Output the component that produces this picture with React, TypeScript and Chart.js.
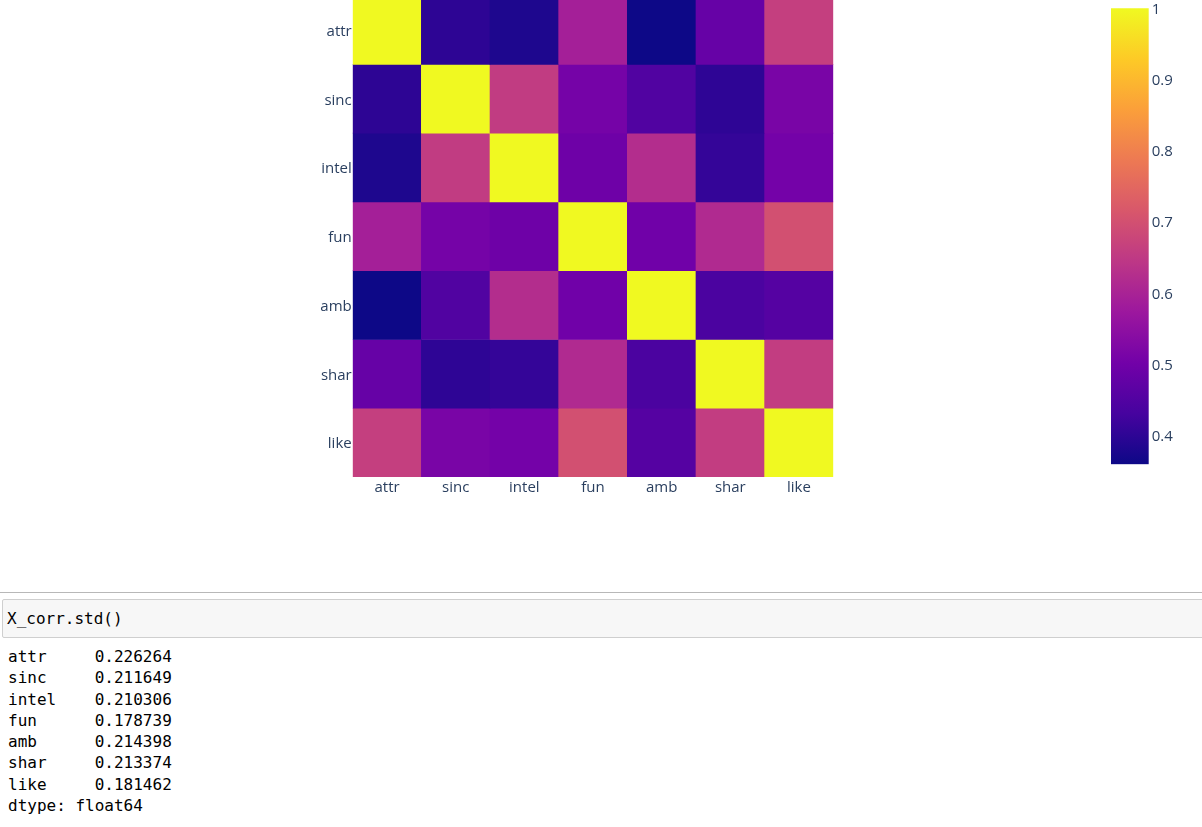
import React, { useEffect, useRef } from 'react';
import { Chart, registerables } from 'chart.js';

Chart.register(...registerables);

// ---- data ----
const variables = ['attr', 'sinc', 'intel', 'fun', 'amb', 'shar', 'like'];

const corrAttr = [1.0, 0.399, 0.38, 0.59, 0.359, 0.482, 0.662];
const corrSinc = [0.399, 1.0, 0.654, 0.507, 0.448, 0.4, 0.513];
const corrIntel = [0.38, 0.654, 1.0, 0.495, 0.622, 0.408, 0.505];
const corrFun = [0.59, 0.507, 0.495, 1.0, 0.499, 0.615, 0.699];
const corrAmb = [0.359, 0.448, 0.622, 0.499, 1.0, 0.438, 0.454];
const corrShar = [0.482, 0.4, 0.408, 0.615, 0.438, 1.0, 0.657];
const corrLike = [0.662, 0.513, 0.505, 0.699, 0.454, 0.657, 1.0];

const colorbarTicks = [0.4, 0.5, 0.6, 0.7, 0.8, 0.9, 1];

const stdNames = ['attr', 'sinc', 'intel', 'fun', 'amb', 'shar', 'like'];
const stdValues = ['0.226264', '0.211649', '0.210306', '0.178739', '0.214398', '0.213374', '0.181462'];

const PLASMA = ['#0d0887', '#46039f', '#7201a8', '#9c179e', '#bd3786', '#d8576b', '#ed7953', '#fb9f3a', '#fdca26', '#f0f921'];

function hexToRgb(h: string) {
  return [parseInt(h.slice(1, 3), 16), parseInt(h.slice(3, 5), 16), parseInt(h.slice(5, 7), 16)];
}

function plasma(t: number) {
  const n = PLASMA.length;
  const c = Math.max(0, Math.min(1, t));
  const s = c * (n - 1);
  const i = Math.min(Math.floor(s), n - 2);
  const f = s - i;
  const a = hexToRgb(PLASMA[i]);
  const b = hexToRgb(PLASMA[i + 1]);
  const r = a.map((v, k) => Math.round(v + (b[k] - v) * f));
  return `rgb(${r[0]},${r[1]},${r[2]})`;
}

const FONT = { family: "'Open Sans', sans-serif", size: 15 };
const TICK_COLOR = '#2a3f5f';
const MONO = "'DejaVu Sans Mono', 'Liberation Mono', monospace";

export default function App() {
  const heatRef = useRef<HTMLCanvasElement | null>(null);
  const barRef = useRef<HTMLCanvasElement | null>(null);

  useEffect(() => {
    const rows = [corrAttr, corrSinc, corrIntel, corrFun, corrAmb, corrShar, corrLike];
    const zMin = Math.min(...rows.flat());
    const zMax = 1;

    const heat = new Chart(heatRef.current as HTMLCanvasElement, {
      type: 'bar',
      data: {
        labels: variables,
        datasets: rows.map((row, i) => ({
          label: variables[i],
          data: row.map(() => [i, i + 1]),
          backgroundColor: row.map((v) => plasma((v - zMin) / (zMax - zMin))),
          borderWidth: 0,
          grouped: false,
          barPercentage: 1,
          categoryPercentage: 1,
        })) as any,
      },
      options: {
        animation: false,
        responsive: false,
        layout: { padding: { top: 35.6, left: 0, right: 0.7, bottom: 0 } },
        plugins: { legend: { display: false }, tooltip: { enabled: false } },
        scales: {
          x: {
            type: 'category',
            grid: { display: false, drawTicks: false },
            border: { display: false },
            ticks: { font: FONT, color: TICK_COLOR, padding: 2, maxRotation: 0, autoSkip: false },
            afterFit: (s: any) => {
              s.height = 43;
            },
          },
          y: {
            type: 'linear',
            reverse: true,
            min: 0,
            max: variables.length,
            grid: { display: false, drawTicks: false },
            border: { display: false },
            afterBuildTicks: (s: any) => {
              s.ticks = variables.map((_, i) => ({ value: i + 0.5 }));
            },
            ticks: {
              font: FONT,
              color: TICK_COLOR,
              padding: 1,
              labelOffset: 1.5,
              callback: (v: any) => variables[Math.round(Number(v) - 0.5)],
            },
            afterFit: (s: any) => {
              s.width = 352.7;
            },
          },
        },
      } as any,
    });

    const bar = new Chart(barRef.current as HTMLCanvasElement, {
      type: 'bar',
      data: {
        labels: ['z'],
        datasets: [
          {
            data: [[zMin, zMax]] as any,
            backgroundColor: (ctx: any) => {
              const chart = ctx.chart;
              const area = chart.chartArea;
              if (!area) return PLASMA[0];
              const y = chart.scales.y;
              const g = chart.ctx.createLinearGradient(0, y.getPixelForValue(zMin), 0, y.getPixelForValue(zMax));
              PLASMA.forEach((c, k) => g.addColorStop(k / (PLASMA.length - 1), c));
              return g;
            },
            borderWidth: 0,
            barPercentage: 1,
            categoryPercentage: 1,
          },
        ],
      },
      options: {
        animation: false,
        responsive: false,
        layout: { padding: { top: 28.3, left: 21, right: 0, bottom: 35.7 } },
        plugins: { legend: { display: false }, tooltip: { enabled: false } },
        scales: {
          x: { display: false },
          y: {
            type: 'linear',
            position: 'right',
            min: zMin,
            max: zMax,
            grid: { display: false, drawTicks: false },
            border: { display: false },
            afterBuildTicks: (s: any) => {
              s.ticks = colorbarTicks.map((v) => ({ value: v }));
            },
            ticks: {
              font: FONT,
              color: TICK_COLOR,
              padding: 3,
              labelOffset: 1.5,
              callback: (v: any) => String(Math.round(Number(v) * 10) / 10),
            },
            afterFit: (s: any) => {
              s.width = 53.3;
            },
          },
        },
      } as any,
    });

    return () => {
      heat.destroy();
      bar.destroy();
    };
  }, []);

  return (
    <div
      style={{
        position: 'fixed',
        top: 0,
        left: 0,
        width: 1202,
        height: 827,
        overflow: 'hidden',
        background: '#fff',
      }}
    >
      <canvas
        ref={heatRef}
        width={834}
        height={560}
        style={{ position: 'absolute', left: 0, top: -40, width: 834, height: 560 }}
      />
      <canvas
        ref={barRef}
        width={112}
        height={520}
        style={{ position: 'absolute', left: 1090, top: -20, width: 112, height: 520 }}
      />
      <div style={{ position: 'absolute', left: 0, top: 592, width: 1202, height: 1, background: '#b8b8b8' }} />
      <div
        style={{
          position: 'absolute',
          left: 2,
          top: 599,
          width: 1220,
          height: 37,
          border: '1px solid #cfcfcf',
          borderRadius: 2,
          background: '#f7f7f7',
          boxSizing: 'content-box',
        }}
      >
        <div
          style={{
            fontFamily: MONO,
            fontSize: 16,
            lineHeight: '37px',
            paddingLeft: 4,
            color: '#000',
            whiteSpace: 'pre',
          }}
        >
          X_corr.std()
        </div>
      </div>
      <div
        style={{
          position: 'absolute',
          left: 8,
          top: 646,
          fontFamily: MONO,
          fontSize: 16,
          lineHeight: '21.3px',
          color: '#000',
          whiteSpace: 'pre',
        }}
      >
        {stdNames.map((n, i) => (
          <div key={n}>{n.padEnd(9, ' ') + stdValues[i]}</div>
        ))}
        <div>dtype: float64</div>
      </div>
    </div>
  );
}
